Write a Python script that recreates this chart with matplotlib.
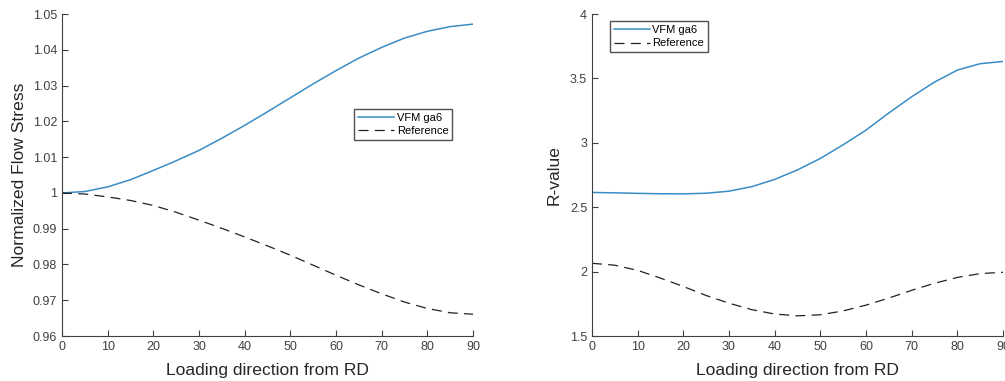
import matplotlib
matplotlib.use("Agg")
import matplotlib.pyplot as plt

# loading angle from RD (deg)
angles = [0, 5, 10, 15, 20, 25, 30, 35, 40, 45, 50, 55, 60, 65, 70, 75, 80, 85, 90]

# normalized flow stress
stress_vfm = [1.0, 1.0004, 1.0017, 1.0037, 1.0063, 1.0090, 1.0119, 1.0153, 1.0189, 1.0227,
              1.0266, 1.0305, 1.0342, 1.0377, 1.0407, 1.0433, 1.0452, 1.0465, 1.0472]
stress_ref = [1.0, 0.9997, 0.9989, 0.9979, 0.9965, 0.9946, 0.9924, 0.9901, 0.9877, 0.9852,
              0.9826, 0.9798, 0.9770, 0.9743, 0.9718, 0.9695, 0.9677, 0.9665, 0.9661]

# r-values
r_vfm = [2.615, 2.612, 2.608, 2.605, 2.604, 2.609, 2.625, 2.660, 2.716, 2.790,
         2.879, 2.985, 3.099, 3.232, 3.358, 3.472, 3.565, 3.615, 3.632]
r_ref = [2.065, 2.050, 2.010, 1.950, 1.885, 1.815, 1.755, 1.705, 1.671, 1.657,
         1.665, 1.695, 1.740, 1.795, 1.855, 1.910, 1.955, 1.985, 1.995]

plt.rcParams["font.family"] = ["Liberation Sans", "DejaVu Sans"]
BLUE = "#3a8cc4"
GRAY = "#404040"

fig = plt.figure(figsize=(10.05, 3.81), dpi=100)
ax1 = fig.add_axes([0.0617, 0.118, 0.409, 0.845])
ax2 = fig.add_axes([0.589, 0.118, 0.409, 0.845])

def style(ax):
    ax.spines[["top", "right"]].set_visible(False)
    for s in ("left", "bottom"):
        ax.spines[s].set_color(GRAY)
        ax.spines[s].set_linewidth(0.8)
    ax.tick_params(direction="in", length=4, width=0.8, colors=GRAY, labelsize=9, labelcolor=GRAY)
    ax.set_xlim(0, 90)
    ax.set_xticks(range(0, 91, 10))
    ax.set_xlabel("Loading direction from RD", fontsize=12.6, color="#262626", labelpad=7)

leg_kw = dict(loc="upper left", fontsize=8, frameon=True, fancybox=False,
              edgecolor="#262626", handlelength=3.3, handletextpad=0.2,
              borderpad=0.35, labelspacing=0.3, borderaxespad=0)

ax1.plot(angles, stress_vfm, color=BLUE, lw=1.1, label="VFM ga6")
ax1.plot(angles, stress_ref, color="#222222", lw=0.9, ls=(0, (8, 5)), label="Reference")
style(ax1)
ax1.set_ylim(0.96, 1.05)
ax1.set_yticks([0.96, 0.97, 0.98, 0.99, 1.0, 1.01, 1.02, 1.03, 1.04, 1.05])
ax1.set_yticklabels(["0.96", "0.97", "0.98", "0.99", "1", "1.01", "1.02", "1.03", "1.04", "1.05"])
ax1.set_ylabel("Normalized Flow Stress", fontsize=12.6, color="#262626", labelpad=4)
ax1.legend(bbox_to_anchor=(0.710, 0.705), **leg_kw)

ax2.plot(angles, r_vfm, color=BLUE, lw=1.1, label="VFM ga6")
ax2.plot(angles, r_ref, color="#222222", lw=0.9, ls=(0, (8, 5)), label="Reference")
style(ax2)
ax2.set_ylim(1.5, 4)
ax2.set_yticks([1.5, 2, 2.5, 3, 3.5, 4])
ax2.set_yticklabels(["1.5", "2", "2.5", "3", "3.5", "4"])
ax2.set_ylabel("R-value", fontsize=12.6, color="#262626", labelpad=6)
ax2.legend(bbox_to_anchor=(0.043, 0.978), **leg_kw)

fig.savefig("out.png", dpi=100)
